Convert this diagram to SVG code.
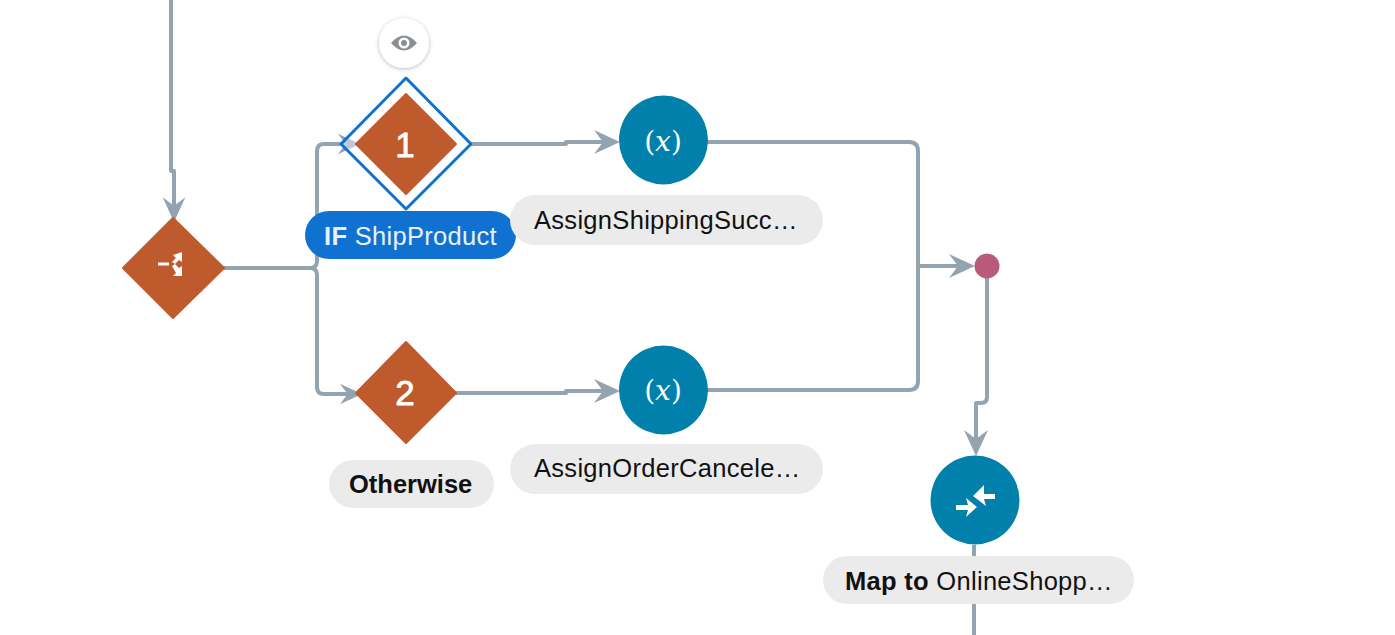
<svg xmlns="http://www.w3.org/2000/svg" width="1395" height="635" viewBox="0 0 1395 635">
<style>
.c{fill:none;stroke:#94a3b0;stroke-width:4;stroke-linejoin:round}
.a{fill:#94a3b0;stroke:none}
.d{fill:#bf5a2d;stroke:#bf5a2d;stroke-width:2;stroke-linejoin:round}
.t{fill:#0080aa}
.p{fill:#ebebeb}
.l{font-family:"Liberation Sans",Arial,sans-serif;font-size:25.500px;fill:#111;letter-spacing:.3px}
.b{font-weight:700}
.n{font-family:"Liberation Sans",Arial,sans-serif;font-size:35px;fill:#fff;stroke:#fff;stroke-width:.8;text-anchor:middle}
.x{font-family:"DejaVu Serif","Liberation Serif",serif;font-size:28px;fill:#fff;text-anchor:middle}
.w{fill:#fff;stroke:none}
</style>
<defs>
<filter id="sh" x="-30%" y="-30%" width="160%" height="160%"><feDropShadow dx="0" dy="1" stdDeviation="2" flood-color="#000" flood-opacity="0.28"/></filter>
<path id="ar" class="a" d="M0 0L-26 -12L-17 0L-26 12Z"/>
</defs>
<rect width="1395" height="635" fill="#fff"/>
<g id="connectors">
<path class="c" d="M171 0V171H174V218"/>
<path class="c" d="M222 268H310Q317 268 317 261V151Q317 144 324 144H345"/>
<path class="c" d="M310 268Q317 268 317 275V387Q317 394 324 394H350"/>
<path class="c" d="M470 144H566V142H610"/>
<path class="c" d="M455 393H566V391H610"/>
<path class="c" d="M706 142H909Q918 142 918 151V381Q918 390 909 390H706"/>
<path class="c" d="M918 266H966"/>
<path class="c" d="M987 278V397Q987 403 981 403H976V440"/>
<path class="c" d="M974 545V560M974 600V635"/>
<use href="#ar" transform="translate(620 142)"/>
<use href="#ar" transform="translate(620 391)"/>
<use href="#ar" transform="translate(975 266)"/>
<use href="#ar" transform="translate(976 456) rotate(90)"/>
<use href="#ar" transform="translate(174 222) rotate(90) scale(.95)"/>
<use href="#ar" transform="translate(360 144) scale(.85)"/>
<use href="#ar" transform="translate(362 394) scale(.85)"/>
</g>
<g id="node-router">
<path class="d" d="M173 218L224 268L173 318L123 268Z"/>
<path class="w" d="M158 262.500H169V265.500H158ZM172 262L176 258L173 255L182 252V262L179 260L175 264ZM172 266L175 264L179 268L182 266V276H173L176 273Z"/>
</g>
<g id="node-if">
<path d="M406 78L471 144L406 209L341 144Z" fill="#fff" fill-opacity="0.4" stroke="#0f72d0" stroke-width="3" stroke-linejoin="round"/>
<path class="d" d="M406 94L456 144L406 194L356 144Z"/>
<text class="n" x="405" y="157">1</text>
<rect x="305" y="211" width="211" height="48" rx="24" fill="#0f72d0"/>
<text class="l" x="324" y="245" style="fill:#e8f1fb"><tspan class="b">IF</tspan> ShipProduct</text>
</g>
<g id="node-eye">
<circle cx="404" cy="43" r="25" fill="#fff" filter="url(#sh)"/>
<path d="M391 43Q404 28 417 43Q404 58 391 43Z" fill="#8a8f93"/>
<circle cx="404" cy="43" r="5.500" fill="#fff"/>
<circle cx="404" cy="43" r="3" fill="#8a8f93"/>
</g>
<g id="node-otherwise">
<path class="d" d="M406 342L456 393L406 443L356 393Z"/>
<text class="n" x="405" y="405">2</text>
<rect x="329" y="460" width="165" height="48" rx="24" class="p"/>
<text class="l b" x="349" y="493" style="letter-spacing:0">Otherwise</text>
</g>
<g id="node-assign-shipping">
<circle class="t" cx="663.500" cy="140" r="44.500"/>
<text class="x" x="663" y="151">(<tspan font-style="italic">x</tspan>)</text>
<rect x="510" y="195" width="313" height="50" rx="25" class="p"/>
<text class="l" x="534" y="229">AssignShippingSucc…</text>
</g>
<g id="node-assign-cancel">
<circle class="t" cx="663.500" cy="390" r="44.500"/>
<text class="x" x="663" y="400">(<tspan font-style="italic">x</tspan>)</text>
<rect x="510" y="444" width="313" height="50" rx="25" class="p"/>
<text class="l" x="534" y="477">AssignOrderCancele…</text>
</g>
<g id="node-merge">
<circle cx="987" cy="266" r="12.500" fill="#b95a7a"/>
</g>
<g id="node-map">
<circle class="t" cx="975" cy="500" r="44.500"/>
<path class="w" d="M956 505H968L966 498L977 507L966 517L968 510H956ZM995 494V499H984L986 506L973 496L984 485L984 494Z"/>
<rect x="823" y="556" width="311" height="48" rx="24" class="p"/>
<text class="l" x="845" y="590"><tspan class="b">Map to</tspan> OnlineShopp…</text>
</g>
</svg>
